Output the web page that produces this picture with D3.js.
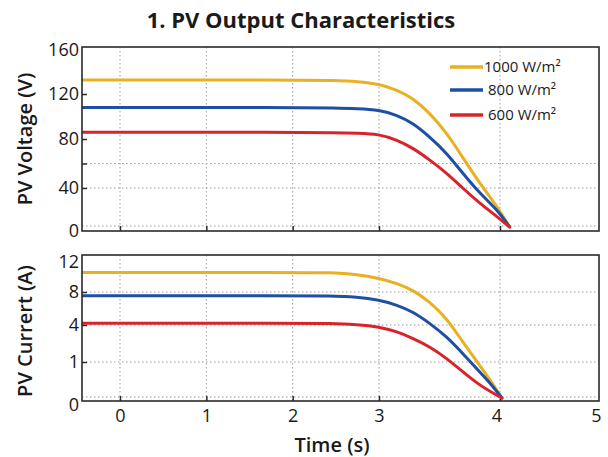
<!DOCTYPE html>
<html>
  <head>
    <meta charset="utf-8">
    <title>PV Output Characteristics</title>
    <script src="https://d3js.org/d3.v7.min.js"></script>
    <style>
      body { margin: 0; background: #fff; font-family: "Open Sans", "DejaVu Sans", sans-serif; }
      .grid line { stroke: #9a9a9a; stroke-width: 1; stroke-dasharray: 1.5 2.5; }
      .frame { fill: none; stroke: #2a2a2a; stroke-width: 1.6; }
      .tick text { fill: #1a1a1a; }
      .series { fill: none; stroke-width: 3; stroke-linejoin: round; stroke-linecap: round; }
    </style>
  </head>
  <body>
    <svg id="chart" width="608" height="457"></svg>
    <script>
      // data
      seriesNames = ["1000 W/m²", "800 W/m²", "600 W/m²"];
      seriesColours = ["#e8b022", "#1d4fa5", "#d8232b"];
      xTicks = [0, 1, 2, 3, 4, 5];
      voltTicks = [0, 40, 80, 120, 160];
      currTicks = [0, 1, 4, 8, 12];
      // voltage (V) against time (s)
      voltTime = [-0.44, 2.0, 2.5, 2.75, 3.0, 3.15, 3.28, 3.42, 3.56, 3.69, 3.83, 3.98, 4.1];
      volt1000 = [132.2, 132.2, 131.8, 131, 128.7, 123.5, 116.4, 103.1, 85.3, 65.3, 44.1, 20.5, 0];
      volt800 = [108, 108, 107.6, 107, 105.8, 101.3, 94.2, 81.8, 68.6, 52.2, 34.9, 17.4, 0];
      volt600 = [86, 86, 85.6, 85.2, 84.4, 79.2, 72.7, 62.9, 52.2, 40, 24.6, 10.3, 0];
      // current (A) against time (s)
      currTime = [-0.44, 2.0, 2.43, 2.75, 3.0, 3.15, 3.28, 3.42, 3.56, 3.69, 3.83, 3.92, 4.02];
      curr1000 = [10.45, 10.45, 10.45, 10.2, 9.71, 9.09, 8.25, 6.82, 4.81, 2.65, 0.92, 0.5, 0];
      curr800 = [7.55, 7.55, 7.55, 7.4, 7.03, 6.42, 5.61, 4.21, 3.05, 1.71, 0.73, 0.41, 0];
      curr600 = [4.22, 4.22, 4.2, 4.06, 3.86, 3.46, 2.92, 2.24, 1.3, 0.73, 0.36, 0.18, 0];

      voltSeries = [volt1000, volt800, volt600];
      currSeries = [curr1000, curr800, curr600];

      chart = d3.select("#chart");
      left = 82;
      right = 599;

      // scales (the picture's axes are not evenly spaced)
      x = d3.scaleLinear().domain([0, 3, 4, 5]).range([120, 379, 500, 596]);
      yVolt = d3.scaleLinear().domain([0, 40, 80, 120, 160]).range([227, 188, 139, 94, 48]);
      yCurr = d3.scaleLinear().domain([0, 1, 4, 8, 12]).range([398, 362, 325, 292, 260]);

      panels = [
        { id: "volt", y: yVolt, top: 47, bottom: 231, ticks: voltTicks, grid: [0, 40, 60], marks: [40, 60, 80, 120], time: voltTime, series: voltSeries, label: "PV Voltage (V)", labelY: 139 },
        { id: "curr", y: yCurr, top: 255, bottom: 401, ticks: currTicks, grid: [0, 1, 4, 8], marks: [1, 4, 8], time: currTime, series: currSeries, label: "PV Currert (A)", labelY: 331 }
      ];

      chart.append("text")
        .text("1. PV Output Characteristics")
        .attr("x", 301)
        .attr("y", 28)
        .attr("text-anchor", "middle")
        .style("font-size", "22px")
        .style("font-weight", "bold")
        .style("fill", "#1a1a1a");

      panels.forEach(function(p) {
        let g = chart.append("g").attr("id", p.id);
        g.append("clipPath")
            .attr("id", p.id + "Clip")
          .append("rect")
            .attr("x", left)
            .attr("y", p.top)
            .attr("width", right - left)
            .attr("height", p.bottom - p.top);
        // dotted grid
        let grid = g.append("g").classed("grid", true);
        grid.selectAll(".vg")
            .data(xTicks.slice(0, 5))
          .enter().append("line")
            .attr("x1", function(d) { return x(d); })
            .attr("x2", function(d) { return x(d); })
            .attr("y1", p.top)
            .attr("y2", p.bottom);
        grid.selectAll(".hg")
            .data(p.grid)
          .enter().append("line")
            .attr("x1", left)
            .attr("x2", right)
            .attr("y1", function(d) { return d == 0 ? p.y(d) - 1 : p.y(d); })
            .attr("y2", function(d) { return d == 0 ? p.y(d) - 1 : p.y(d); });
        // inward tick marks
        g.append("g")
            .attr("transform", "translate(0, " + p.bottom + ")")
            .call(d3.axisTop(x).tickValues(xTicks.slice(0, 5)).tickSize(5).tickFormat(""))
            .call(function(a) { a.select(".domain").remove(); a.selectAll("line").attr("stroke", "#2a2a2a").attr("stroke-width", 1.5); });
        g.append("g")
            .attr("transform", "translate(" + left + ", 0)")
            .call(d3.axisRight(p.y).tickValues(p.marks).tickSize(5).tickFormat(""))
            .call(function(a) { a.select(".domain").remove(); a.selectAll("line").attr("stroke", "#2a2a2a").attr("stroke-width", 1.5); });
        // y labels
        let yLabels = g.append("g")
            .attr("transform", "translate(" + (left - 3) + ", 0)")
            .call(d3.axisLeft(p.y).tickValues(p.ticks).tickSize(0).tickPadding(0));
        yLabels.select(".domain").remove();
        yLabels.selectAll(".tick").attr("transform", function(d) {
          let yy = p.y(d);
          if (p.id == "volt" && d == 0) yy = 231;
          if (p.id == "volt" && d == 160) yy = 50;
          if (p.id == "curr" && d == 0) yy = 405;
          if (p.id == "curr" && d == 12) yy = 262;
          return "translate(0," + yy + ")";
        });
        yLabels.selectAll("text").style("font-size", "18px").style("font-family", "'Open Sans', sans-serif");
        // curves
        let line = d3.line()
          .x(function(d) { return x(d[0]); })
          .y(function(d) { return p.y(d[1]); })
          .curve(d3.curveBasis);
        g.append("g")
            .attr("clip-path", "url(#" + p.id + "Clip)")
          .selectAll(".series")
            .data(p.series)
          .enter().append("path")
            .classed("series", true)
            .attr("stroke", function(d, i) { return seriesColours[i]; })
            .attr("d", function(d) { return line(p.time.map(function(t, j) { return [t, d[j]]; })); });
        g.append("rect")
            .classed("frame", true)
            .attr("x", left)
            .attr("y", p.top)
            .attr("width", right - left)
            .attr("height", p.bottom - p.top);
        g.append("text")
            .text(p.label)
            .attr("transform", "translate(32, " + p.labelY + ") rotate(-90)")
            .attr("text-anchor", "middle")
            .style("font-size", "20px")
            .style("font-weight", "600")
            .style("fill", "#1a1a1a");
      });

      // x axis labels
      xAxisGroup = chart.append("g")
        .attr("transform", "translate(0, 401)")
        .call(d3.axisBottom(x).tickValues(xTicks).tickSize(0).tickPadding(8).tickFormat(d3.format("d")));
      xAxisGroup.select(".domain").remove();
      xAxisGroup.selectAll("text").style("font-size", "18px").style("font-family", "'Open Sans', sans-serif");
      xAxisGroup.selectAll(".tick").filter(function(d) { return d == 4; })
        .attr("transform", "translate(" + (x(4) - 3) + ",0)");
      chart.append("text")
        .text("Time (s)")
        .attr("x", 332)
        .attr("y", 452)
        .attr("text-anchor", "middle")
        .style("font-size", "20px")
        .style("font-weight", "600")
        .style("fill", "#1a1a1a");

      // legend
      legend = chart.append("g")
        .selectAll(".key")
          .data(seriesNames)
        .enter().append("g")
          .attr("transform", function(d, i) { return "translate(450, " + [67, 90, 115][i] + ")"; });
      legend.append("line")
        .attr("x1", 0)
        .attr("x2", 33)
        .attr("stroke", function(d, i) { return seriesColours[i]; })
        .attr("stroke-width", 3.5);
      legend.append("text")
        .text(function(d) { return d; })
        .attr("x", function(d, i) { return i == 0 ? 34 : 38; })
        .attr("dy", "0.35em")
        .style("font-size", "15px")
        .style("font-weight", "500")
        .style("fill", "#1a1a1a");
    </script>
  </body>
</html>
